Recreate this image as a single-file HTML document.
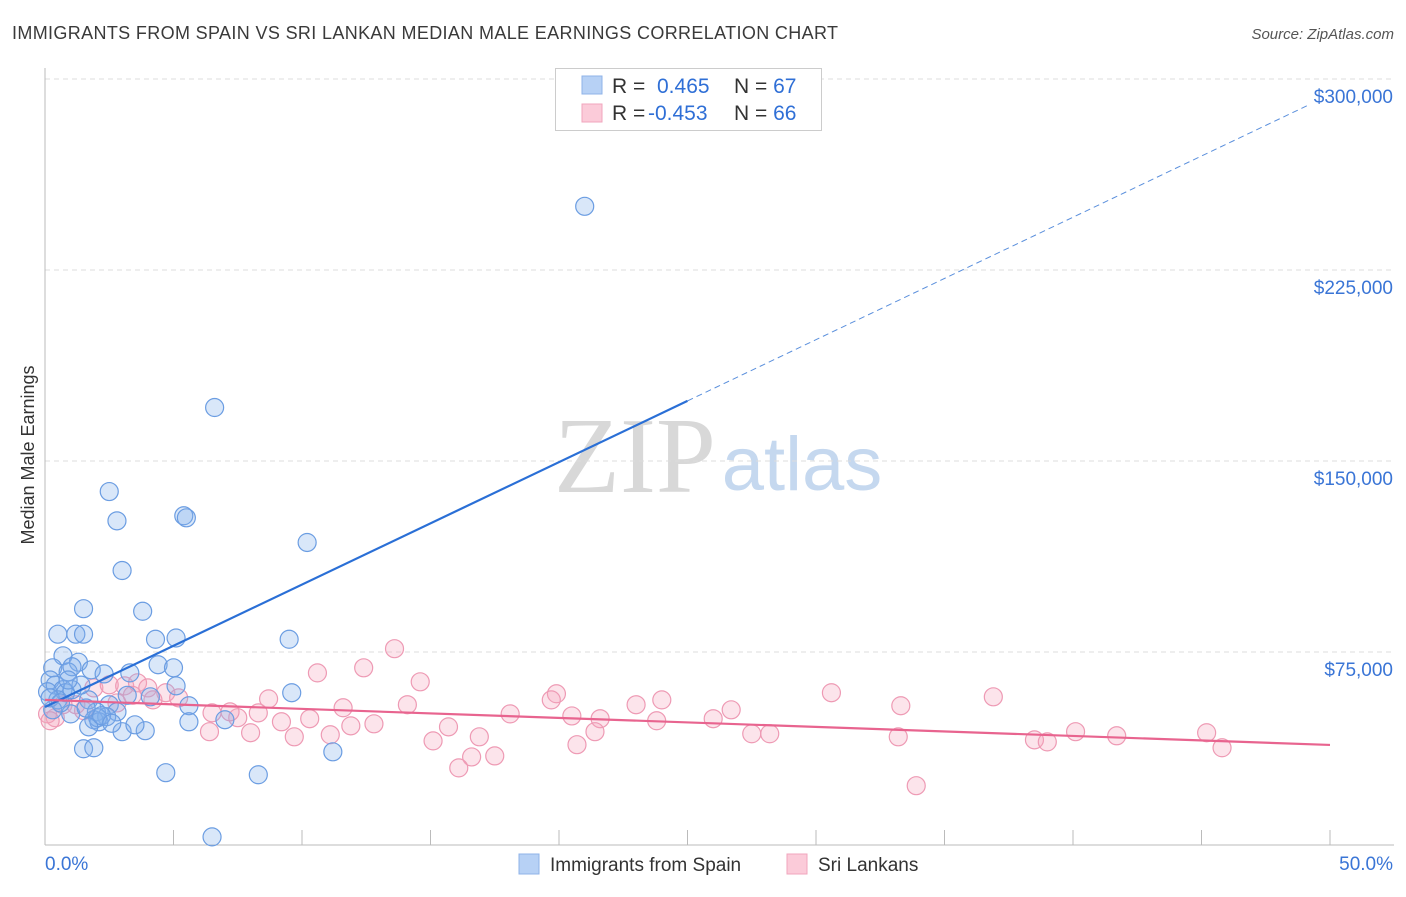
<!DOCTYPE html>
<html><head><meta charset="utf-8"><style>
body{margin:0;background:#fff;font-family:"Liberation Sans",sans-serif;}
#wrap{position:relative;width:1406px;height:892px;}
</style></head><body>
<div id="wrap">
<svg id="svg" width="1406" height="892" xmlns="http://www.w3.org/2000/svg">
<text x="12" y="39" font-size="18" fill="#3a3a3a" textLength="826">IMMIGRANTS FROM SPAIN VS SRI LANKAN MEDIAN MALE EARNINGS CORRELATION CHART</text>
<text x="1394" y="39" font-size="15" fill="#555" font-style="italic" text-anchor="end">Source: ZipAtlas.com</text>
<text transform="translate(34,455) rotate(-90)" font-size="18" fill="#333" text-anchor="middle">Median Male Earnings</text>
<g><text x="635" y="492" font-size="108" fill="#d8d8d8" font-family="Liberation Serif,serif" text-anchor="middle">ZIP</text><text x="802" y="490" font-size="76" fill="#c5d8ef" text-anchor="middle">atlas</text></g>
<g id="grid"></g><g id="axes"></g><g id="pts"></g><g id="lines"></g>
<g>
<rect x="555.5" y="68.5" width="266" height="62" fill="#fff" stroke="#ccc"/>
<rect x="582" y="76" width="20" height="18" fill="#b7d1f5" stroke="#8fb3e8"/>
<rect x="582" y="104" width="20" height="18" fill="#fbcbd9" stroke="#f0a6bd"/>
<text x="612" y="93" font-size="21" fill="#333">R = <tspan x="657" fill="#2f6fd6">0.465</tspan><tspan x="734" fill="#333">N = </tspan><tspan fill="#2f6fd6">67</tspan></text>
<text x="612" y="120" font-size="21" fill="#333">R = <tspan x="648" fill="#2f6fd6">-0.453</tspan><tspan x="734" fill="#333">N = </tspan><tspan fill="#2f6fd6">66</tspan></text>
</g>
<g>
<rect x="519" y="854" width="20" height="20" fill="#b7d1f5" stroke="#8fb3e8"/>
<text x="550" y="871" font-size="19" fill="#333">Immigrants from Spain</text>
<rect x="787" y="854" width="20" height="20" fill="#fbcbd9" stroke="#f0a6bd"/>
<text x="818" y="871" font-size="19" fill="#333">Sri Lankans</text>
</g>
</svg></div>
<script>
const blueX=[21.0,6.6,2.5,2.8,5.4,5.5,10.2,3.0,1.5,3.8,0.5,1.2,1.5,4.3,5.1,9.5,0.7,1.3,0.3,0.9,1.8,1.05,4.4,5.0,3.3,2.3,0.2,0.4,0.7,0.1,0.8,1.05,5.1,9.6,0.5,1.7,4.1,5.6,2.5,0.3,1.0,2.0,2.8,2.4,1.9,2.1,2.05,1.7,5.6,7.0,3.0,3.9,3.5,1.5,1.9,11.2,4.7,8.3,6.5,0.2,0.6,1.4,2.2,0.9,1.6,2.6,3.2];
const blueY=[250,171,138,126.5,128.5,127.7,118,107,92,91,82,82,82,80,80.5,80,73.5,71,68.8,67.2,68,69.2,70,68.8,66.8,66.4,64,62,60.2,59.4,59,60.2,61.7,59,56.2,56.2,57.4,53.9,54.3,52.3,50.7,51.5,51.5,49.6,48.4,47.6,49.2,45.6,47.6,48.4,43.7,44.1,46.4,37,37.4,35.8,27.6,26.8,2.4,57,55,62,50,64,53,47,58];
const pinkX=[13.6,12.4,10.6,14.6,36.9,30.6,19.9,24.0,19.7,8.7,33.3,23.0,14.1,26.7,11.6,18.1,20.5,21.6,26.0,23.8,9.2,10.3,8.3,7.5,6.5,7.2,12.8,11.9,15.7,9.7,11.1,8.0,6.4,16.9,21.4,27.5,28.2,33.2,40.1,41.7,45.2,15.1,20.7,38.5,39.0,45.8,16.6,17.5,16.1,33.9,1.9,2.5,3.1,3.6,4.0,4.7,5.2,4.2,0.7,1.2,0.4,0.1,0.2,1.5,2.8,3.4];
const pinkY=[76.3,68.8,66.8,63.3,57.4,59,58.6,56.2,56.2,56.6,53.9,54.3,54.3,52.3,53.1,50.7,49.9,48.8,48.8,48,47.6,48.8,51.1,49.2,51.1,51.5,46.8,46,45.6,41.7,42.5,43.3,43.7,41.7,43.7,42.9,42.9,41.7,43.7,42.1,43.3,40.1,38.6,40.5,39.7,37.4,33.8,34.2,29.5,22.5,60.9,62.1,61.7,62.9,60.9,59,57,56.2,54.3,54.3,49.2,50.7,48,52,55,58];
const yTicks=[75000,150000,225000,300000];
const yTickLabels=["$75,000","$150,000","$225,000","$300,000"];
const xTickLabels=["0.0%","50.0%"];
const blueTrend=[53.4,173.6,49.2];
const pinkTrend=[56.2,38.5];
const NS="http://www.w3.org/2000/svg";
const xs=p=>45+p*25.7;
const ys=k=>843-k*1000/75000*191;
function mk(t,a,par){const e=document.createElementNS(NS,t);for(const k in a)e.setAttribute(k,a[k]);document.getElementById(par).appendChild(e);return e;}
yTicks.forEach((v,i)=>{const y=ys(v/1000);
const g=mk('line',{x1:45,x2:1394,y1:y,y2:y,stroke:'#ddd','stroke-dasharray':'5,4'},'grid');


const t=mk('text',{x:1393,y:y+24,'font-size':19,fill:'#3a75d6','text-anchor':'end'},'grid');t.textContent=yTickLabels[i];

});
mk('line',{x1:45,x2:45,y1:68,y2:845,stroke:'#bbb'},'axes');
mk('line',{x1:45,x2:1394,y1:845,y2:845,stroke:'#bbb'},'axes');
for(let i=1;i<=10;i++){const l=mk('line',{x1:xs(i*5),x2:xs(i*5),y1:830,y2:845,stroke:'#bbb'},'axes');

}
[[45,'start',0],[1393,'end',1]].forEach(([x,a,i])=>{const t=mk('text',{x:x,y:870,'font-size':19,fill:'#3a75d6','text-anchor':a},'axes');t.textContent=xTickLabels[i];

});
pinkX.forEach((x,i)=>{const c=mk('circle',{cx:xs(x),cy:ys(pinkY[i]),r:9,fill:'rgba(245,165,190,0.3)',stroke:'#ee9ab4','stroke-width':1.2},'pts');

});
blueX.forEach((x,i)=>{const c=mk('circle',{cx:xs(x),cy:ys(blueY[i]),r:9,fill:'rgba(130,175,235,0.3)',stroke:'#6b9de2','stroke-width':1.2},'pts');

});
const bs=(blueTrend[1]-blueTrend[0])/25;
const l1=mk('line',{x1:xs(0),y1:ys(blueTrend[0]),x2:xs(25),y2:ys(blueTrend[1]),stroke:'#2a6fd6','stroke-width':2.2},'lines');


const l2=mk('line',{x1:xs(25),y1:ys(blueTrend[1]),x2:xs(blueTrend[2]),y2:ys(blueTrend[0]+bs*blueTrend[2]),stroke:'#5a8fdc','stroke-width':1,'stroke-dasharray':'6,4'},'lines');


const l3=mk('line',{x1:xs(0),y1:ys(pinkTrend[0]),x2:xs(50),y2:ys(pinkTrend[1]),stroke:'#e8648f','stroke-width':2.2},'lines');


</script>
</body></html>
